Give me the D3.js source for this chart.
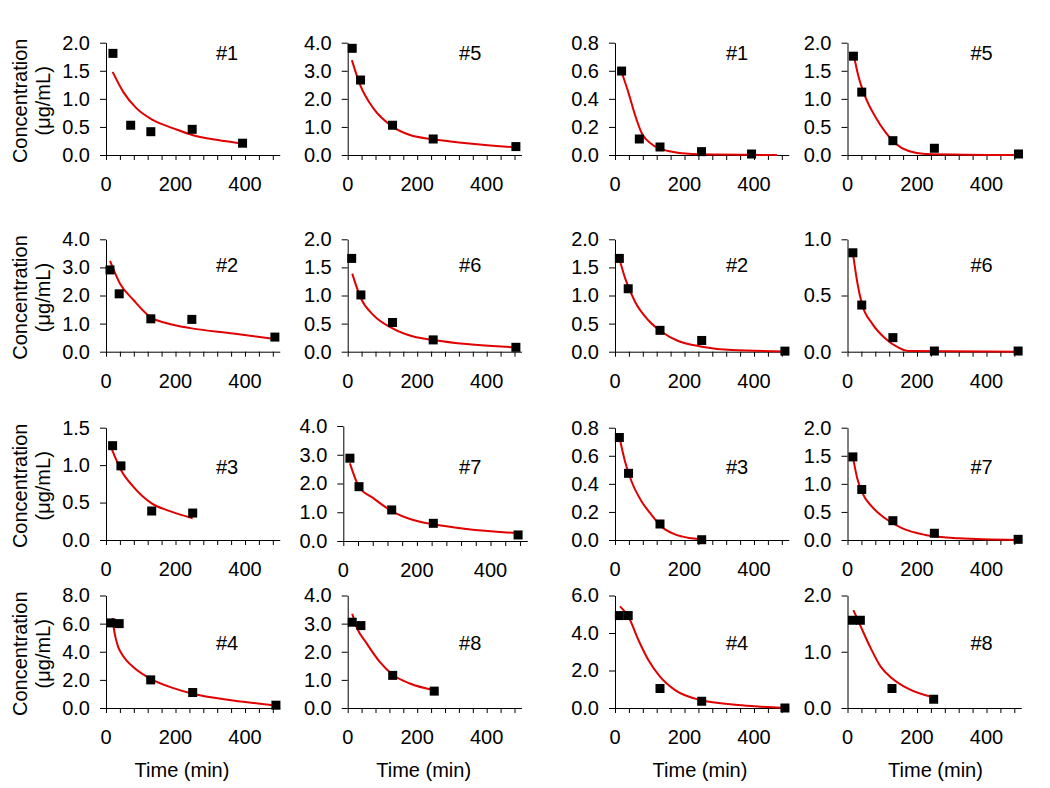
<!DOCTYPE html>
<html>
<head>
<meta charset="utf-8">
<script src="https://cdn.jsdelivr.net/npm/d3@7"></script>
<style>
  body { margin: 0; background: #fff; }
  svg text { font-family: Arial, "Liberation Sans", sans-serif; font-size: 20px; fill: #000; }
</style>
</head>
<body>
<svg id="chart" width="1050" height="788"></svg>
<script>
// Panels are listed row by row, four per row (two left blocks, two right blocks)
const panelLabels = ["#1", "#5", "#1", "#5", "#2", "#6", "#2", "#6", "#3", "#7", "#3", "#7", "#4", "#8", "#4", "#8"];
const yMax = [2, 4, 0.8, 2, 4, 2, 2, 1, 1.5, 4, 0.8, 2, 8, 4, 6, 2];
const yStep = [0.5, 1, 0.2, 0.5, 1, 0.5, 0.5, 0.5, 0.5, 1, 0.2, 0.5, 2, 1, 2, 1];
const xMax = 500;
const xLabelTicks = [0, 200, 400];
const xMinorStep = 40;
const yTitle = ["Concentration", "(\u03bcg/mL)"];
const xTitle = "Time (min)";

// measured points (time in min, concentration in ug/mL)
const obsTime = [
  [20, 71, 129, 248, 393], [13, 37, 129, 246, 484], [19, 70, 129.5, 249, 393], [17, 41, 130.6, 250, 492],
  [11.5, 38, 129, 247, 486], [11.5, 38, 129, 246, 484], [12.5, 38, 129.5, 249.5, 489], [15.5, 41, 130.6, 250, 491],
  [19, 43, 131.5, 249.5], [18, 42.7, 131.5, 244.6, 475], [12.5, 39, 129.5, 249.5], [15.5, 41, 130.6, 250, 491],
  [14.4, 38, 128.6, 249.5, 489], [13, 38, 129.5, 249], [12.5, 38, 129.5, 249.5, 489], [14.4, 37, 128, 248]
];
const obsConc = [
  [1.81, 0.53, 0.415, 0.457, 0.21], [3.8, 2.67, 1.06, 0.57, 0.3], [0.598, 0.114, 0.057, 0.024, 0.007], [1.76, 1.12, 0.255, 0.12, 0.018],
  [2.91, 2.06, 1.17, 1.15, 0.52], [1.66, 1.01, 0.52, 0.21, 0.078], [1.66, 1.12, 0.38, 0.2, 0.01], [0.88, 0.415, 0.125, 0.006, 0.006],
  [1.26, 0.99, 0.387, 0.36], [2.88, 1.89, 1.08, 0.615, 0.21], [0.73, 0.475, 0.114, 0.002], [1.48, 0.9, 0.344, 0.12, 0.012],
  [6.05, 6.0, 2.0, 1.1, 0.2], [3.05, 2.93, 1.16, 0.6], [4.93, 4.93, 1.04, 0.36, 0.0], [1.56, 1.56, 0.347, 0.156]
];

// fitted curves
const fitTime = [
  [19, 50, 88, 136, 194, 248, 318, 400], [12, 36, 74, 129, 179, 246, 342, 484],
  [19, 38, 57.6, 77, 105, 153, 221, 466], [17, 32, 51, 80, 108, 137, 176, 224, 492],
  [11.5, 40, 79, 129, 175, 247, 366, 486], [13, 38, 74, 129, 189, 246, 342, 484],
  [12.5, 29, 57.6, 96, 134, 182, 249.5, 336, 489], [15.5, 28, 41, 71, 108, 147, 175.5, 491],
  [16, 43, 79, 131.5, 184, 249.5], [18, 42.6, 81.5, 131.5, 190, 244.6, 335, 475],
  [13, 29, 48, 77, 105.6, 134, 172.7, 220.7, 249.5], [15.5, 28, 41, 71, 108, 156.5, 224, 320, 491],
  [19, 23, 28, 35, 45, 60, 79, 128.6, 194, 249.5, 366, 489], [13, 26, 55, 93, 129.5, 179, 249],
  [14.4, 38, 67, 96, 129.5, 173, 249.5, 365, 489], [17, 38, 67, 96, 128, 173, 248]
];
const fitConc = [
  [1.48, 1.12, 0.83, 0.62, 0.475, 0.356, 0.27, 0.196], [3.38, 2.49, 1.66, 1.01, 0.71, 0.56, 0.42, 0.27],
  [0.59, 0.45, 0.285, 0.155, 0.078, 0.028, 0.007, 0.0], [1.81, 1.39, 1.04, 0.68, 0.415, 0.21, 0.07, 0.02, 0.0],
  [3.23, 2.43, 1.84, 1.22, 1.01, 0.83, 0.65, 0.45], [1.39, 0.95, 0.65, 0.415, 0.27, 0.21, 0.137, 0.078],
  [1.66, 1.31, 0.89, 0.56, 0.356, 0.19, 0.09, 0.03, 0.005], [0.88, 0.62, 0.43, 0.25, 0.12, 0.036, 0.006, 0.0],
  [1.22, 0.935, 0.71, 0.49, 0.385, 0.29], [2.7, 1.89, 1.49, 1.04, 0.73, 0.58, 0.42, 0.27],
  [0.73, 0.558, 0.415, 0.273, 0.178, 0.095, 0.04, 0.012, 0.003], [1.48, 1.1, 0.86, 0.59, 0.386, 0.21, 0.09, 0.03, 0.0],
  [6.4, 5.6, 4.95, 4.35, 3.85, 3.35, 2.9, 2.07, 1.41, 1.01, 0.54, 0.18], [3.35, 2.87, 2.29, 1.63, 1.18, 0.87, 0.63],
  [5.42, 4.89, 3.64, 2.56, 1.67, 0.95, 0.41, 0.145, 0.0], [1.74, 1.45, 1.06, 0.73, 0.53, 0.347, 0.186]
];

// layout (pixels)
const colX0 = [106, 347.7, 615, 847.5];
const plotW = 173.75;
const rowTop = [42.7, 239.3, 427.7, 595.5];
const rowBottom = [155, 351.7, 540, 708];
const labelDx = [121, 122.5, 122, 134];
const labelDy = [10.5, 25.5, 39, 47];
const titleDx = [76, 76, 85, 88];
// one panel in the picture is drawn a bit wider
const boxOverride = { 9: { x0: 343.3, w: 184, top: 426, bottom: 541 } };

const svg = d3.select("#chart");

const panelBox = (i) => {
  const r = Math.floor(i / 4), c = i % 4;
  const base = { x0: colX0[c], w: plotW, top: rowTop[r], bottom: rowBottom[r] };
  return Object.assign(base, boxOverride[i] || {});
};

const drawPanel = (i) => {
  const r = Math.floor(i / 4), c = i % 4;
  const box = panelBox(i);
  const x = d3.scaleLinear().domain([0, xMax]).range([box.x0, box.x0 + box.w]);
  const y = d3.scaleLinear().domain([0, yMax[i]]).range([box.bottom, box.top]);
  const g = svg.append("g");

  // x axis: ticks every 40 min, labels at 0/200/400
  const xa = g.append("g")
    .attr("transform", `translate(0,${box.bottom})`)
    .call(d3.axisBottom(x)
      .tickValues(d3.range(0, xMax, xMinorStep))
      .tickSize(5).tickSizeOuter(0).tickFormat(""));
  xa.selectAll("path, line").attr("stroke", "#000");

  g.selectAll(".xlab")
    .data(xLabelTicks)
    .enter()
    .append("text")
    .attr("x", (d) => x(d))
    .attr("y", box.bottom + 36)
    .attr("text-anchor", "middle")
    .text((d) => d);

  // y axis
  const ticks = d3.range(0, yMax[i] + yStep[i] / 2, yStep[i]);
  const ya = g.append("g")
    .attr("transform", `translate(${box.x0},0)`)
    .call(d3.axisLeft(y)
      .tickValues(ticks)
      .tickSize(6).tickSizeOuter(0).tickPadding(10)
      .tickFormat(d3.format(".1f")));
  ya.selectAll("path, line").attr("stroke", "#000");
  ya.attr("font-size", null).attr("font-family", null);

  // fitted line
  const pts = fitTime[i].map((t, k) => [t, fitConc[i][k]]);
  g.append("path")
    .datum(pts)
    .attr("fill", "none")
    .attr("stroke", "#e00000")
    .attr("stroke-width", 2)
    .attr("d", d3.line().x((d) => x(d[0])).y((d) => y(d[1])).curve(d3.curveMonotoneX));

  // measured points
  const obs = obsTime[i].map((t, k) => [t, obsConc[i][k]]);
  g.selectAll(".pt")
    .data(obs)
    .enter()
    .append("rect")
    .attr("x", (d) => x(d[0]) - 4.5)
    .attr("y", (d) => y(d[1]) - 4.5)
    .attr("width", 9)
    .attr("height", 9)
    .attr("fill", "#000");

  // panel label
  g.append("text")
    .attr("x", colX0[c] + labelDx[c])
    .attr("y", rowTop[r] + labelDy[r] + 7)
    .attr("text-anchor", "middle")
    .text(panelLabels[i]);

  // y title on first column
  if (c === 0) {
    const cy = (box.top + box.bottom) / 2 + 2;
    g.append("text")
      .attr("transform", `translate(26.5,${cy}) rotate(-90)`)
      .attr("text-anchor", "middle")
      .text(yTitle[0]);
    g.append("text")
      .attr("transform", `translate(50,${cy}) rotate(-90)`)
      .attr("text-anchor", "middle")
      .text(yTitle[1]);
  }

  // x title on last row
  if (r === 3) {
    g.append("text")
      .attr("x", colX0[c] + titleDx[c])
      .attr("y", 777)
      .attr("text-anchor", "middle")
      .text(xTitle);
  }
};

panelLabels.forEach((d, i) => drawPanel(i));
</script>
</body>
</html>
